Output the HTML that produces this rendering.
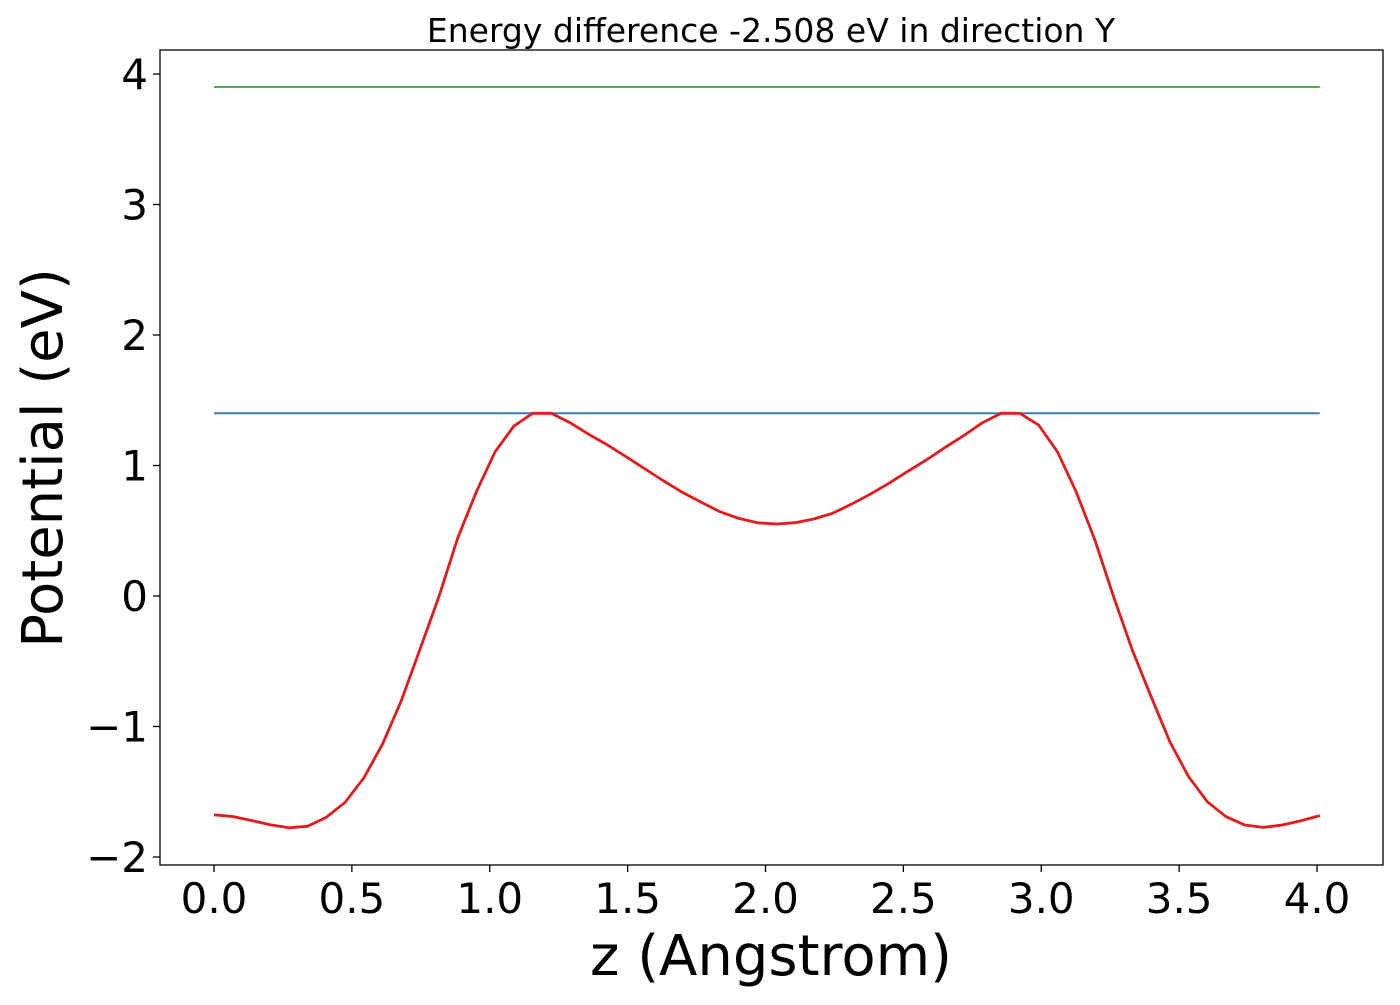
<!DOCTYPE html>
<html><head><meta charset="utf-8"><style>
body{margin:0;background:#fff}
svg text{font-family:"DejaVu Sans","Liberation Sans",sans-serif;fill:#000}
</style></head><body>
<svg id="chart" width="1400" height="1000" xmlns="http://www.w3.org/2000/svg">
<rect width="1400" height="1000" fill="#fff"/>
<text x="771" y="42" font-size="33" text-anchor="middle">Energy difference -2.508 eV in direction Y</text>
<g id="plot"></g>
<rect x="160" y="50" width="1223" height="815" fill="none" stroke="#000" stroke-width="1.3"/>
<g id="ticks"></g>
<text x="771" y="975" font-size="56" text-anchor="middle">z (Angstrom)</text>
<text transform="translate(62,458) rotate(-90)" font-size="56" text-anchor="middle">Potential (eV)</text>
</svg>
<script>
const potential=[-1.677,-1.69,-1.72,-1.753,-1.776,-1.764,-1.695,-1.58,-1.393,-1.132,-0.8,-0.404,-0.005,0.442,0.799,1.105,1.303,1.4,1.4,1.328,1.239,1.157,1.067,0.973,0.881,0.794,0.718,0.646,0.595,0.561,0.552,
0.562,0.590,0.634,0.703,0.779,0.863,0.953,1.042,1.137,1.229,1.328,1.4,1.4,1.31,1.106,0.799,0.429,-0.005,-0.414,-0.772,-1.116,-1.385,-1.576,-1.691,-1.755,-1.773,-1.755,-1.722,-1.683];
const zMax=4.01;
const barrierLevel=1.4;
const upperLevel=3.9;
const xTicks=[0,0.5,1,1.5,2,2.5,3,3.5,4];
const xTickLabels=["0.0","0.5","1.0","1.5","2.0","2.5","3.0","3.5","4.0"];
const yTicks=[-2,-1,0,1,2,3,4];
const yTickLabels=["\u22122","\u22121","0","1","2","3","4"];
const NS="http://www.w3.org/2000/svg";
const xs=z=>214+z*275.75;
const ys=v=>596-v*130.5;
const plot=document.getElementById('plot'),ticks=document.getElementById('ticks');
function mk(tag,attrs,parent){const e=document.createElementNS(NS,tag);for(const k in attrs)e.setAttribute(k,attrs[k]);parent.appendChild(e);return e;}
const g=mk('line',{x1:xs(0),x2:xs(zMax),y1:ys(upperLevel),y2:ys(upperLevel),stroke:'#4daf4a','stroke-width':2},plot);


const b=mk('line',{x1:xs(0),x2:xs(zMax),y1:ys(barrierLevel),y2:ys(barrierLevel),stroke:'#377eb8','stroke-width':2},plot);


const n=potential.length;
const pts=potential.map((v,i)=>xs(i*zMax/(n-1)).toFixed(1)+','+ys(v).toFixed(1)).join(' ');
const r=mk('polyline',{points:pts,fill:'none',stroke:'#e41a1c','stroke-width':2.8,'stroke-linejoin':'round'},plot);


xTicks.forEach((t,i)=>{
  const l=mk('line',{x1:xs(t),x2:xs(t),y1:865,y2:872,stroke:'#000','stroke-width':1.3},ticks);
  
  
  const tx=mk('text',{x:xs(t),y:913,'font-size':42,'text-anchor':'middle'},ticks);
  tx.textContent=xTickLabels[i];
  
  
});
yTicks.forEach((t,i)=>{
  const l=mk('line',{x1:153,x2:160,y1:ys(t),y2:ys(t),stroke:'#000','stroke-width':1.3},ticks);
  
  
  const tx=mk('text',{x:148,y:ys(t)+15,'font-size':42,'text-anchor':'end'},ticks);
  tx.textContent=yTickLabels[i];
  
  
});
</script>
</body></html>
